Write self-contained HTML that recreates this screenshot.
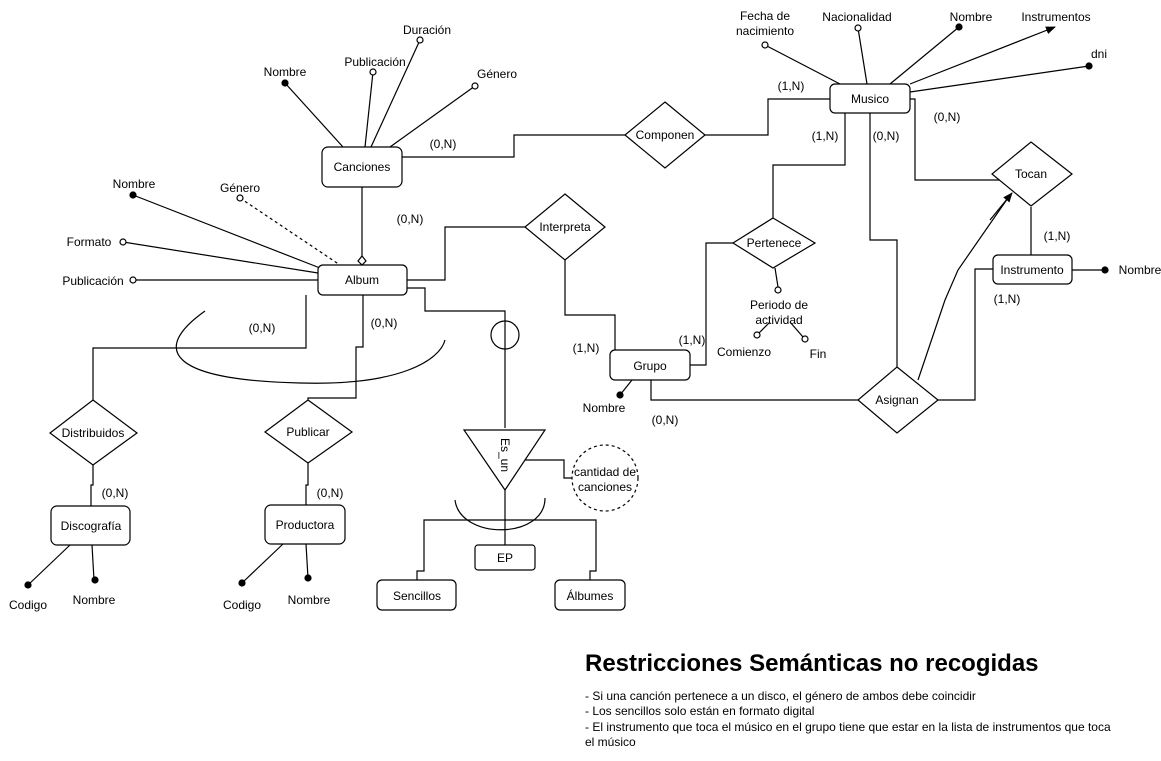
<!DOCTYPE html>
<html><head><meta charset="utf-8"><style>
html,body{margin:0;padding:0;background:#fff;}
svg{display:block;}
text{font-family:"Liberation Sans",Arial,sans-serif;font-size:12px;fill:#000;}
.c{text-anchor:middle;dominant-baseline:central;}
</style></head><body>
<svg width="1161" height="761" viewBox="0 0 1161 761" xmlns="http://www.w3.org/2000/svg">
<defs><marker id="ar" markerWidth="10" markerHeight="8" refX="9" refY="4" orient="auto" markerUnits="userSpaceOnUse"><path d="M0,0 L10,4 L0,8 z" fill="#000"/></marker></defs>
<g stroke="#000" stroke-width="1.2" fill="none">
<line x1="285" y1="83" x2="343" y2="147"/>
<line x1="373" y1="72" x2="365" y2="147"/>
<line x1="420" y1="40" x2="371" y2="147"/>
<line x1="475" y1="86" x2="390" y2="147"/>
<polyline points="402,157 514,157 514,135 625,135"/>
<line x1="362" y1="187" x2="362" y2="258"/>
<line x1="133" y1="195" x2="320" y2="268"/>
<line x1="240" y1="198" x2="340" y2="265" stroke-dasharray="3,3"/>
<line x1="123" y1="242" x2="318" y2="273"/>
<line x1="133" y1="280" x2="318" y2="280"/>
<polyline points="407,280 445,280 445,227 525,227"/>
<polyline points="565,260 565,315 615,315 615,350"/>
<polyline points="306,295 306,348 93,348 93,400"/>
<polyline points="363,295 363,347 356,347 356,398 308,398 308,400"/>
<polyline points="407,288 425,288 425,311 505,311 505,428"/>
<circle cx="505" cy="335" r="14"/>
<path d="M205,311 C150,350 170,380 300,383 C400,386 440,360 445,340"/>
<line x1="765" y1="45" x2="840" y2="84"/>
<line x1="858" y1="28" x2="867" y2="84"/>
<line x1="959" y1="27" x2="890" y2="84"/>
<line x1="910" y1="84" x2="1055" y2="27" marker-end="url(#ar)"/>
<line x1="910" y1="92" x2="1089" y2="66"/>
<polyline points="705,135 768,135 768,99 830,99"/>
<polyline points="845,113 845,165 773,165 773,218"/>
<polyline points="733,243 706,243 706,365 690,365"/>
<line x1="775" y1="268" x2="778" y2="287"/>
<line x1="770" y1="322" x2="759" y2="333"/>
<line x1="790" y1="322" x2="803" y2="337"/>
<line x1="620" y1="395" x2="632" y2="380"/>
<polyline points="651,380 651,400 858,400"/>
<polyline points="870,113 870,240 897,240 897,367"/>
<polyline points="906,99 915,99 915,180 1000,180"/>
<polyline points="918,380 945,300 958,270 1010,195" />
<line x1="990" y1="220" x2="1012" y2="193" marker-end="url(#ar)"/>
<line x1="1031" y1="207" x2="1031" y2="255" stroke="#555" stroke-width="1.8"/>
<line x1="1072" y1="270" x2="1105" y2="270"/>
<polyline points="938,400 975,400 975,269 993,269"/>
<polyline points="93,465 93,485 91,485 91,506"/>
<line x1="70" y1="545" x2="28" y2="585"/>
<line x1="92" y1="545" x2="94" y2="580"/>
<polyline points="308,463 308,485 306,485 306,505"/>
<line x1="283" y1="544" x2="242" y2="583"/>
<line x1="306" y1="544" x2="308" y2="578"/>
<polygon points="464,430 545,430 505,490"/>
<polyline points="525,460 564,460 564,478 572,478"/>
<circle cx="605" cy="478" r="33" stroke-dasharray="3,3"/>
<path d="M455,500 C460,540 545,540 545,498"/>
<line x1="505" y1="490" x2="505" y2="545"/>
<polyline points="417,580 417,571 424,571 424,520 596,520 596,571 590,571 590,580"/>
<rect x="322" y="147" width="80" height="40" rx="6" fill="#fff"/>
<rect x="318" y="265" width="89" height="30" rx="5" fill="#fff"/>
<rect x="830" y="84" width="80" height="29" rx="5" fill="#fff"/>
<rect x="610" y="350" width="80" height="30" rx="5" fill="#fff"/>
<rect x="993" y="255" width="79" height="29" rx="5" fill="#fff"/>
<rect x="51" y="506" width="79" height="39" rx="6" fill="#fff"/>
<rect x="265" y="505" width="80" height="39" rx="6" fill="#fff"/>
<rect x="475" y="545" width="60" height="25" rx="3" fill="#fff"/>
<rect x="377" y="580" width="79" height="30" rx="5" fill="#fff"/>
<rect x="555" y="580" width="70" height="30" rx="5" fill="#fff"/>
<polygon points="362,256 366,261 362,265 358,261" fill="#fff"/>
<polygon points="565,194 605,227 565,260 525,227" fill="#fff"/>
<polygon points="665,102 705,135 665,168 625,135" fill="#fff"/>
<polygon points="773,218 815,243 773,268 733,243" fill="#fff"/>
<polygon points="897,367 938,400 897,433 858,400" fill="#fff"/>
<polygon points="1031,142 1072,174 1031,206 992,174" fill="#fff"/>
<polygon points="93,400 137,433 93,465 50,433" fill="#fff"/>
<polygon points="308,400 352,432 308,463 265,432" fill="#fff"/>
<g fill="#fff">
<circle cx="373" cy="72" r="3"/><circle cx="420" cy="40" r="3"/><circle cx="475" cy="86" r="3"/>
<circle cx="240" cy="198" r="3"/><circle cx="123" cy="242" r="3"/><circle cx="133" cy="280" r="3"/>
<circle cx="765" cy="45" r="3"/><circle cx="858" cy="28" r="3"/>
<circle cx="778" cy="290" r="3"/><circle cx="757" cy="335" r="3"/><circle cx="805" cy="339" r="3"/>
</g>
<g fill="#000">
<circle cx="285" cy="83" r="3"/><circle cx="133" cy="195" r="3"/><circle cx="959" cy="27" r="3"/>
<circle cx="1089" cy="66" r="3"/><circle cx="620" cy="395" r="3"/><circle cx="1105" cy="270" r="3"/>
<circle cx="28" cy="585" r="3"/><circle cx="95" cy="580" r="3"/><circle cx="242" cy="583" r="3"/><circle cx="308" cy="578" r="3"/>
</g>
</g>
<text class="c" x="362" y="167">Canciones</text>
<text class="c" x="362" y="280">Album</text>
<text class="c" x="870" y="99">Musico</text>
<text class="c" x="650" y="366">Grupo</text>
<text class="c" x="1032" y="270">Instrumento</text>
<text class="c" x="91" y="526">Discografía</text>
<text class="c" x="305" y="525">Productora</text>
<text class="c" x="505" y="558">EP</text>
<text class="c" x="417" y="596">Sencillos</text>
<text class="c" x="590" y="596">Álbumes</text>
<text class="c" x="565" y="227">Interpreta</text>
<text class="c" x="665" y="135">Componen</text>
<text class="c" x="774" y="243">Pertenece</text>
<text class="c" x="897" y="400">Asignan</text>
<text class="c" x="1031" y="174">Tocan</text>
<text class="c" x="93" y="433">Distribuidos</text>
<text class="c" x="308" y="432">Publicar</text>
<text class="c" transform="translate(505,455) rotate(90)">Es_un</text>
<text class="c" x="605" y="472">cantidad de</text>
<text class="c" x="605" y="487">canciones</text>
<text class="c" x="285" y="72">Nombre</text>
<text class="c" x="375" y="62">Publicación</text>
<text class="c" x="427" y="30">Duración</text>
<text class="c" x="497" y="74">Género</text>
<text class="c" x="134" y="184">Nombre</text>
<text class="c" x="240" y="188">Género</text>
<text class="c" x="89" y="242">Formato</text>
<text class="c" x="93" y="281">Publicación</text>
<text class="c" x="765" y="16">Fecha de</text>
<text class="c" x="765" y="31">nacimiento</text>
<text class="c" x="857" y="17">Nacionalidad</text>
<text class="c" x="971" y="17">Nombre</text>
<text class="c" x="1056" y="17">Instrumentos</text>
<text class="c" x="1099" y="54">dni</text>
<text class="c" x="1140" y="270">Nombre</text>
<text class="c" x="779" y="305">Periodo de</text>
<text class="c" x="779" y="320">actividad</text>
<text class="c" x="744" y="352">Comienzo</text>
<text class="c" x="818" y="354">Fin</text>
<text class="c" x="604" y="408">Nombre</text>
<text class="c" x="28" y="605">Codigo</text>
<text class="c" x="94" y="600">Nombre</text>
<text class="c" x="242" y="605">Codigo</text>
<text class="c" x="309" y="600">Nombre</text>
<text class="c" x="443" y="144">(0,N)</text>
<text class="c" x="410" y="219">(0,N)</text>
<text class="c" x="262" y="328">(0,N)</text>
<text class="c" x="384" y="323">(0,N)</text>
<text class="c" x="586" y="348">(1,N)</text>
<text class="c" x="791" y="86">(1,N)</text>
<text class="c" x="825" y="136">(1,N)</text>
<text class="c" x="886" y="136">(0,N)</text>
<text class="c" x="947" y="117">(0,N)</text>
<text class="c" x="692" y="340">(1,N)</text>
<text class="c" x="665" y="420">(0,N)</text>
<text class="c" x="1057" y="236">(1,N)</text>
<text class="c" x="1007" y="299">(1,N)</text>
<text class="c" x="115" y="493">(0,N)</text>
<text class="c" x="330" y="493">(0,N)</text>
<text x="585" y="671" style="font-size:24px;font-weight:bold">Restricciones Semánticas no recogidas</text>
<text x="585" y="700">- Si una canción pertenece a un disco, el género de ambos debe coincidir</text>
<text x="585" y="715">- Los sencillos solo están en formato digital</text>
<text x="585" y="731">- El instrumento que toca el músico en el grupo tiene que estar en la lista de instrumentos que toca</text>
<text x="585" y="746">el músico</text>
</svg>
</body></html>
